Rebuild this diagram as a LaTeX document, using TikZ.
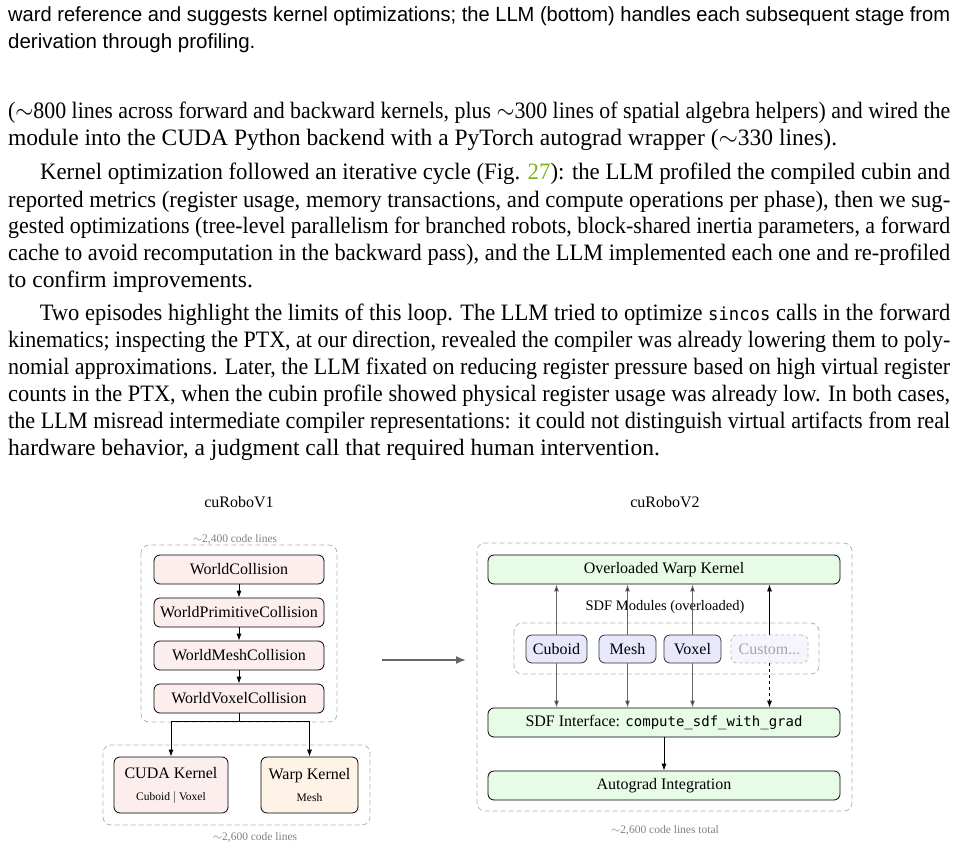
\documentclass[tikz,border=0pt]{standalone}
\usepackage{fontspec}
\setmainfont{Liberation Serif}
\setsansfont{Liberation Sans}
\setmonofont{DejaVu Sans Mono}
\usetikzlibrary{arrows.meta}
\definecolor{pinkf}{HTML}{FDEEEE}
\definecolor{warpf}{HTML}{FEF3E6}
\definecolor{greenf}{HTML}{E6FCE6}
\definecolor{bluef}{HTML}{E8E8FC}
\definecolor{custf}{HTML}{F5F5FD}
\definecolor{refc}{HTML}{7DB51E}
\definecolor{dashc}{HTML}{B4B4B4}
\tikzset{
  tl/.style={anchor=base west,inner sep=0pt,font=\fontsize{23.5}{27}\selectfont},
  cl/.style={anchor=base west,inner sep=0pt,font=\sffamily\fontsize{20.5}{24}\selectfont},
  box/.style={draw=black,rounded corners=6pt,line width=0.8pt,inner sep=0pt,font=\fontsize{16}{19}\selectfont},
  grp/.style={draw=dashc,dashed,rounded corners=8pt,line width=0.8pt,dash pattern=on 5pt off 3pt},
  small/.style={text=gray,font=\fontsize{11.5}{13}\selectfont,inner sep=0pt},
  arr/.style={-{Latex[length=7pt,width=5pt]},line width=0.8pt},
  garr/.style={draw=gray!80!black,line width=1pt,-{Latex[length=7pt,width=5pt,fill=black]}},
}
\newsavebox\jb
\newcommand{\jl}[1]{\sbox\jb{#1}\ifdim\wd\jb>942pt\relax\resizebox{942pt}{\ht\jb}{\usebox\jb}\else\makebox[942pt][s]{#1}\fi}
\begin{document}
\begin{tikzpicture}[x=1pt,y=-1pt]
\useasboundingbox (0,0) rectangle (958,848);
% caption text
\node[cl] (c1) at (8,22) {\jl{ward reference and suggests kernel optimizations; the LLM (bottom) handles each subsequent stage from}};
\node[cl] (c2) at (8,49) {derivation through profiling.};
% body
\node[tl] (p1) at (8,119) {\jl{($\sim$800 lines across forward and backward kernels, plus $\sim$300 lines of spatial algebra helpers) and wired the}};
\node[tl] (p2) at (8,146) {module into the CUDA Python backend with a PyTorch autograd wrapper ($\sim$330 lines).};
\node[tl] (p3) at (8,179) {\jl{\hspace*{33pt}Kernel optimization followed an iterative cycle (Fig. \textcolor{refc}{27}): the LLM profiled the compiled cubin and}};
\node[tl] (p4) at (8,207) {\jl{reported metrics (register usage, memory transactions, and compute operations per phase), then we sug-}};
\node[tl] (p5) at (8,233) {\jl{gested optimizations (tree-level parallelism for branched robots, block-shared inertia parameters, a forward}};
\node[tl] (p6) at (8,260) {\jl{cache to avoid recomputation in the backward pass), and the LLM implemented each one and re-profiled}};
\node[tl] (p7) at (8,287) {to confirm improvements.};
\node[tl] (p8) at (8,320) {\jl{\hspace*{33pt}Two episodes highlight the limits of this loop. The LLM tried to optimize {\ttfamily\fontsize{18}{20}\selectfont sincos} calls in the forward}};
\node[tl] (p9) at (8,347) {\jl{kinematics; inspecting the PTX, at our direction, revealed the compiler was already lowering them to poly-}};
\node[tl] (p10) at (8,374) {\jl{nomial approximations. Later, the LLM fixated on reducing register pressure based on high virtual register}};
\node[tl] (p11) at (8,401) {\jl{counts in the PTX, when the cubin profile showed physical register usage was already low. In both cases,}};
\node[tl] (p12) at (8,428) {\jl{the LLM misread intermediate compiler representations: it could not distinguish virtual artifacts from real}};
\node[tl] (p13) at (8,455) {hardware behavior, a judgment call that required human intervention.};

% ---------- V1
\node[font=\fontsize{16}{18}\selectfont] (t1) at (239,502) {cuRoboV1};
\draw[grp] (141,545) rectangle (337,722);
\node[small,fill=white,inner xsep=2pt] (g1) at (235,539) {$\sim$2,400 code lines};
\node[box,fill=pinkf,minimum width=170pt,minimum height=29pt] (wc) at (239,569.5) {WorldCollision};
\node[box,fill=pinkf,minimum width=170pt,minimum height=29pt] (wp) at (239,612.5) {WorldPrimitiveCollision};
\node[box,fill=pinkf,minimum width=170pt,minimum height=29pt] (wm) at (239,655.5) {WorldMeshCollision};
\node[box,fill=pinkf,minimum width=170pt,minimum height=29pt] (wv) at (239,698.5) {WorldVoxelCollision};
\draw[arr] (wc) -- (wp);
\draw[arr] (wp) -- (wm);
\draw[arr] (wm) -- (wv);
\draw[grp] (103,745) rectangle (370,825);
\node[small] (g2) at (255,837) {$\sim$2,600 code lines};
\node[box,fill=pinkf,minimum width=114pt,minimum height=56pt,align=center] (ck) at (171,785) {CUDA Kernel\\[3pt]{\fontsize{11.5}{13}\selectfont Cuboid $|$ Voxel}};
\node[box,fill=warpf,minimum width=97pt,minimum height=56pt,align=center] (wk) at (309.5,785) {Warp Kernel\\[3pt]{\fontsize{11.5}{13}\selectfont Mesh}};
\coordinate (sp) at (239,721);
\draw[line width=0.8pt] (wv.south) -- (sp);
\draw[arr] (sp) -| (ck.north);
\draw[arr] (sp) -| (wk.north);
% middle arrow
\coordinate (ma) at (382,660);
\coordinate (mb) at (466,660);
\draw[draw=gray!80!black,line width=1.6pt,-{Latex[length=10pt,width=8pt]}] (ma) -- (mb);

% ---------- V2
\node[font=\fontsize{16}{18}\selectfont] (t2) at (665,502) {cuRoboV2};
\draw[grp] (477,543) rectangle (852,811);
\node[box,fill=greenf,minimum width=352pt,minimum height=29pt] (ow) at (664,569.5) {Overloaded Warp Kernel};
\node[font=\fontsize{14.5}{16}\selectfont,inner sep=0pt] (sm) at (665,607) {SDF Modules (overloaded)};
\draw[grp] (514,623) rectangle (819,674);
\node[box,fill=bluef,minimum width=61pt,minimum height=28pt,draw=black!80] (cu) at (556.5,649) {Cuboid};
\node[box,fill=bluef,minimum width=57pt,minimum height=28pt,draw=black!80] (me) at (627.5,649) {Mesh};
\node[box,fill=bluef,minimum width=57pt,minimum height=28pt,draw=black!80] (vo) at (692.5,649) {Voxel};
\node[box,fill=custf,draw=dashc,dashed,text=gray!70,minimum width=77pt,minimum height=28pt] (cs) at (769.5,649) {Custom...};
\node[box,fill=greenf,minimum width=352pt,minimum height=29pt] (si) at (664,722.5) {SDF Interface: {\ttfamily\fontsize{14}{16}\selectfont compute\_sdf\_with\_grad}};
\node[box,fill=greenf,minimum width=352pt,minimum height=29pt] (ag) at (664,785.5) {Autograd Integration};
\foreach \m in {cu,me,vo}{
  \draw[garr] (\m.north) -- (\m.north |- ow.south);
  \draw[garr] (\m.south) -- (\m.south |- si.north);
}
\draw[arr] (cs.north) -- (cs.north |- ow.south);
\draw[arr,dashed] (cs.south) -- (cs.south |- si.north);
\draw[arr] (si.south) -- (si.south |- ag.north);
\node[small] (g3) at (665,830) {$\sim$2,600 code lines total};
\end{tikzpicture}
\end{document}
